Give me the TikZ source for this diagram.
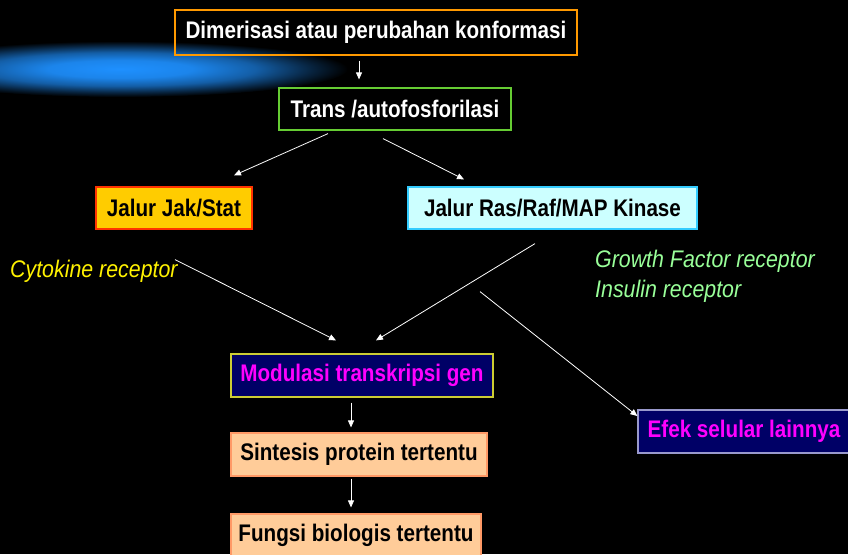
\documentclass[tikz,border=0pt]{standalone}
\usepackage{fontspec}
\setmainfont{Liberation Sans}
\newfontfamily\boxfont{Liberation Sans}[FakeStretch=0.86]
\newfontfamily\labfont{Liberation Sans}[FakeStretch=0.89]
\usetikzlibrary{calc,arrows.meta}
\definecolor{cOrange}{HTML}{FF9900}
\definecolor{cGreenB}{HTML}{66CC33}
\definecolor{cJak}{HTML}{FFCC00}
\definecolor{cJakB}{HTML}{FF3300}
\definecolor{cRas}{HTML}{CCFFFF}
\definecolor{cRasB}{HTML}{33CCFF}
\definecolor{cNavy}{HTML}{000066}
\definecolor{cModB}{HTML}{CCCC33}
\definecolor{cMag}{HTML}{FF00FF}
\definecolor{cPeach}{HTML}{FFCC99}
\definecolor{cPeachB}{HTML}{FF9966}
\definecolor{cEfekB}{HTML}{9999CC}
\definecolor{cLGreen}{HTML}{99FF99}
\definecolor{cGlow}{HTML}{1E90FF}
\pgfdeclareradialshading{glowshade}{\pgfpoint{0bp}{0bp}}{color(0bp)=(cGlow); color(8bp)=(cGlow!92!black); color(15bp)=(cGlow!65!black); color(21bp)=(cGlow!25!black); color(25bp)=(black); color(50bp)=(black)}
\tikzset{
  box/.style={draw, line width=1.2pt, inner sep=0pt, font=\boxfont\bfseries\fontsize{24}{24}\selectfont, anchor=center},
  lab/.style={font=\labfont\itshape\fontsize{24}{30}\selectfont, inner sep=0pt, anchor=west, align=left},
  arr/.style={draw=white, line width=0.8pt, -{Triangle[width=6pt,length=7pt]}}
}
\begin{document}
\begin{tikzpicture}[x=1pt,y=-1pt]
\useasboundingbox (0,0) rectangle (848,554);
\fill[black] (0,0) rectangle (848,554);
% blue glow
\shade[shading=glowshade] (120,69) ellipse (228 and 28);
% nodes
\node[box, draw=cOrange, text=white, minimum width=402pt, minimum height=45pt] (dim) at (376,32.5) {Dimerisasi atau perubahan konformasi};
\node[box, draw=cGreenB, text=white, minimum width=232pt, minimum height=42pt] (trans) at (395,109) {Trans /autofosforilasi};
\node[box, draw=cJakB, fill=cJak, text=black, minimum width=156pt, minimum height=42pt] (jak) at (174,208) {Jalur Jak/Stat};
\node[box, draw=cRasB, fill=cRas, text=black, minimum width=289pt, minimum height=42pt] (ras) at (552.5,208) {Jalur Ras/Raf/MAP Kinase};
\node[box, draw=cModB, fill=cNavy, text=cMag, minimum width=262pt, minimum height=43pt] (mod) at (362,375.5) {Modulasi transkripsi gen};
\node[box, draw=cPeachB, fill=cPeach, text=black, minimum width=256pt, minimum height=43pt] (sin) at (359,454.5) {Sintesis protein tertentu};
\node[box, draw=cPeachB, fill=cPeach, text=black, minimum width=250pt, minimum height=43pt] (fun) at (356,535.5) {Fungsi biologis tertentu};
\node[box, draw=cEfekB, fill=cNavy, text=cMag, minimum width=222pt, minimum height=43pt] (efek) at (749,431.5) {Efek selular lainnya\hspace*{10pt}};
% labels
\node[lab, text=yellow] (cyto) at (10,271) {Cytokine receptor};
\node[lab, text=cLGreen] (grow) at (595,276) {Growth Factor receptor\\Insulin receptor};
% connectors
\draw[arr] ($(dim.south)+(-17,5)$) -- ($(trans.north)+(-36,-8)$);
\draw[arr] ($(trans.south)+(-67,3)$) -- ($(jak.north)+(60,-11)$);
\draw[arr] ($(trans.south)+(-12,8)$) -- ($(ras.north)+(-88.5,-7)$);
\draw[arr] ($(jak.south)+(1,30)$) -- ($(mod.north)+(-26,-13)$);
\draw[arr] ($(ras.south)+(-17.5,14)$) -- ($(mod.north)+(14,-13)$);
\draw[arr] ($(ras.south)+(-72.5,62)$) -- ($(efek.west)+(0,-15.5)$);
\draw[arr] ($(mod.south)+(-11,5)$) -- ($(sin.north)+(-8,-5)$);
\draw[arr] ($(sin.south)+(-8,2)$) -- ($(fun.north)+(-5,-6)$);
\end{tikzpicture}
\end{document}
